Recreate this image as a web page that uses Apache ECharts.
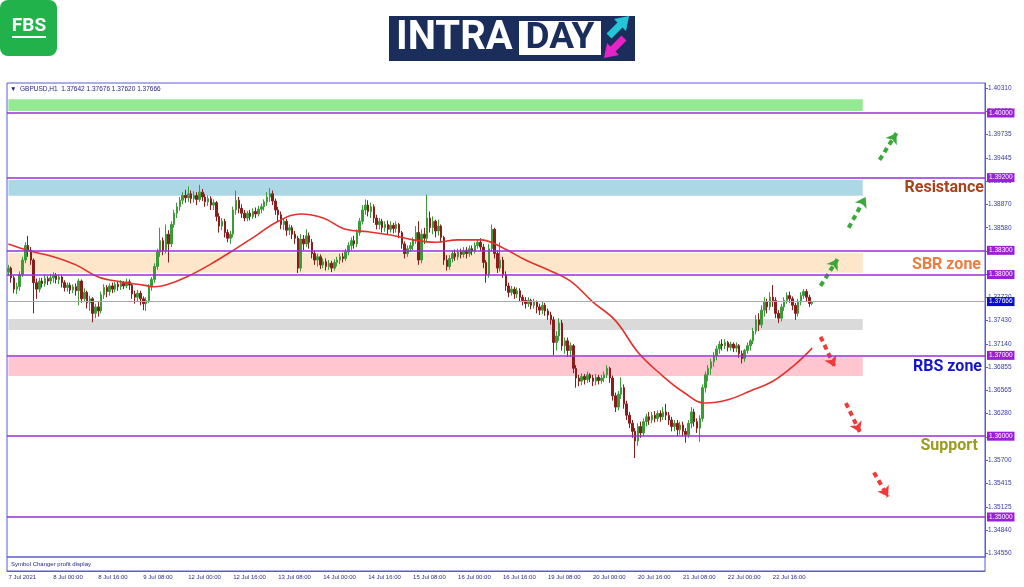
<!DOCTYPE html>
<html>
<head>
<meta charset="utf-8">
<title>GBPUSD H1 - Intraday</title>
<script src="https://cdn.jsdelivr.net/npm/echarts@6/dist/echarts.min.js"></script>
<style>
  html, body { margin: 0; padding: 0; background: #fff; }
  #chart { width: 1024px; height: 587px; }
</style>
</head>
<body>
<div id="chart"></div>
<script>
// hourly candles, 7 Jul 2021 08:00 -> 23 Jul 06:00, rows are [open, close, low, high]
const ohlc = [
  [1.3803,1.3808,1.3798,1.3812],[1.3808,1.3796,1.3790,1.3810],[1.3796,1.3782,1.3777,1.3799],[1.3782,1.3785,1.3776,1.3790],
  [1.3785,1.3800,1.3780,1.3804],[1.3800,1.3818,1.3797,1.3822],[1.3818,1.3836,1.3814,1.3840],[1.3836,1.3830,1.3822,1.3848],
  [1.3830,1.3818,1.3812,1.3834],[1.3818,1.3790,1.3752,1.3820],[1.3790,1.3782,1.3770,1.3795],[1.3782,1.3792,1.3778,1.3796],
  [1.3792,1.3789,1.3784,1.3796],[1.3789,1.3795,1.3785,1.3799],[1.3795,1.3792,1.3787,1.3798],[1.3792,1.3796,1.3788,1.3801],
  // 8 Jul
  [1.3796,1.3799,1.3790,1.3803],[1.3799,1.3794,1.3789,1.3802],[1.3794,1.3797,1.3788,1.3800],[1.3797,1.3790,1.3784,1.3799],
  [1.3790,1.3784,1.3779,1.3793],[1.3784,1.3787,1.3779,1.3790],[1.3787,1.3781,1.3776,1.3790],[1.3781,1.3785,1.3777,1.3788],
  [1.3785,1.3780,1.3774,1.3789],[1.3780,1.3792,1.3762,1.3795],[1.3792,1.3770,1.3765,1.3794],[1.3770,1.3778,1.3766,1.3783],
  [1.3778,1.3765,1.3758,1.3780],[1.3765,1.3770,1.3755,1.3774],[1.3770,1.3752,1.3741,1.3772],[1.3752,1.3760,1.3746,1.3764],
  [1.3760,1.3755,1.3748,1.3766],[1.3755,1.3775,1.3752,1.3779],[1.3775,1.3784,1.3770,1.3788],[1.3784,1.3779,1.3772,1.3787],
  [1.3779,1.3786,1.3774,1.3789],[1.3786,1.3782,1.3777,1.3790],[1.3782,1.3788,1.3778,1.3791],[1.3788,1.3785,1.3780,1.3792],
  [1.3785,1.3789,1.3781,1.3793],[1.3789,1.3786,1.3782,1.3792],[1.3786,1.3791,1.3783,1.3795],[1.3791,1.3787,1.3781,1.3794],
  [1.3787,1.3776,1.3770,1.3789],[1.3776,1.3772,1.3764,1.3780],[1.3772,1.3777,1.3766,1.3781],[1.3777,1.3770,1.3762,1.3780],
  // 9 Jul
  [1.3770,1.3764,1.3756,1.3773],[1.3764,1.3768,1.3755,1.3772],[1.3768,1.3785,1.3765,1.3788],[1.3785,1.3794,1.3780,1.3797],
  [1.3794,1.3810,1.3790,1.3814],[1.3810,1.3828,1.3806,1.3832],[1.3828,1.3842,1.3822,1.3858],[1.3842,1.3830,1.3824,1.3846],
  [1.3830,1.3850,1.3826,1.3862],[1.3850,1.3838,1.3815,1.3855],[1.3838,1.3862,1.3834,1.3866],[1.3862,1.3876,1.3858,1.3880],
  [1.3876,1.3884,1.3870,1.3889],[1.3884,1.3892,1.3879,1.3896],[1.3892,1.3898,1.3887,1.3902],[1.3898,1.3895,1.3889,1.3905],
  // 12 Jul
  [1.3895,1.3900,1.3890,1.3909],[1.3900,1.3894,1.3888,1.3904],[1.3894,1.3898,1.3889,1.3903],[1.3898,1.3893,1.3886,1.3902],
  [1.3893,1.3902,1.3890,1.3911],[1.3902,1.3896,1.3891,1.3906],[1.3896,1.3890,1.3884,1.3900],[1.3890,1.3894,1.3885,1.3898],
  [1.3894,1.3886,1.3880,1.3897],[1.3886,1.3889,1.3880,1.3893],[1.3889,1.3872,1.3866,1.3891],[1.3872,1.3860,1.3852,1.3876],
  [1.3860,1.3866,1.3855,1.3870],[1.3866,1.3852,1.3846,1.3869],[1.3852,1.3845,1.3840,1.3856],[1.3845,1.3850,1.3838,1.3854],
  [1.3850,1.3880,1.3846,1.3884],[1.3880,1.3892,1.3874,1.3904],[1.3892,1.3882,1.3876,1.3896],[1.3882,1.3876,1.3870,1.3887],
  [1.3876,1.3870,1.3866,1.3880],[1.3870,1.3876,1.3866,1.3879],[1.3876,1.3872,1.3867,1.3880],[1.3872,1.3878,1.3869,1.3882],
  // 13 Jul
  [1.3878,1.3875,1.3870,1.3883],[1.3875,1.3881,1.3872,1.3885],[1.3881,1.3884,1.3876,1.3888],[1.3884,1.3890,1.3879,1.3893],
  [1.3890,1.3896,1.3885,1.3902],[1.3896,1.3900,1.3890,1.3907],[1.3900,1.3891,1.3886,1.3904],[1.3891,1.3880,1.3874,1.3894],
  [1.3880,1.3874,1.3866,1.3884],[1.3874,1.3862,1.3856,1.3878],[1.3862,1.3866,1.3855,1.3870],[1.3866,1.3855,1.3848,1.3869],
  [1.3855,1.3858,1.3849,1.3862],[1.3858,1.3850,1.3844,1.3861],[1.3850,1.3845,1.3838,1.3854],[1.3845,1.3808,1.3802,1.3848],
  [1.3808,1.3844,1.3804,1.3850],[1.3844,1.3838,1.3830,1.3849],[1.3838,1.3848,1.3834,1.3856],[1.3848,1.3840,1.3832,1.3852],
  [1.3840,1.3826,1.3820,1.3844],[1.3826,1.3818,1.3812,1.3830],[1.3818,1.3822,1.3810,1.3826],[1.3822,1.3812,1.3807,1.3825],
  // 14 Jul
  [1.3812,1.3816,1.3808,1.3820],[1.3816,1.3810,1.3805,1.3820],[1.3810,1.3814,1.3806,1.3818],[1.3814,1.3808,1.3803,1.3817],
  [1.3808,1.3815,1.3805,1.3819],[1.3815,1.3818,1.3810,1.3822],[1.3818,1.3822,1.3813,1.3826],[1.3822,1.3820,1.3815,1.3827],
  [1.3820,1.3828,1.3817,1.3832],[1.3828,1.3836,1.3824,1.3840],[1.3836,1.3842,1.3830,1.3846],[1.3842,1.3838,1.3832,1.3848],
  [1.3838,1.3852,1.3834,1.3856],[1.3852,1.3866,1.3848,1.3870],[1.3866,1.3880,1.3862,1.3886],[1.3880,1.3886,1.3874,1.3893],
  [1.3886,1.3878,1.3872,1.3892],[1.3878,1.3884,1.3870,1.3889],[1.3884,1.3870,1.3864,1.3887],[1.3870,1.3862,1.3856,1.3874],
  [1.3862,1.3866,1.3856,1.3870],[1.3866,1.3858,1.3852,1.3869],[1.3858,1.3862,1.3853,1.3866],[1.3862,1.3856,1.3850,1.3867],
  // 15 Jul
  [1.3856,1.3861,1.3852,1.3866],[1.3861,1.3857,1.3851,1.3864],[1.3857,1.3862,1.3852,1.3866],[1.3862,1.3852,1.3845,1.3864],
  [1.3852,1.3838,1.3832,1.3854],[1.3838,1.3826,1.3820,1.3841],[1.3826,1.3832,1.3822,1.3836],[1.3832,1.3836,1.3828,1.3840],
  [1.3836,1.3842,1.3830,1.3846],[1.3842,1.3852,1.3838,1.3860],[1.3852,1.3818,1.3812,1.3866],[1.3818,1.3850,1.3814,1.3856],
  [1.3850,1.3845,1.3838,1.3858],[1.3845,1.3870,1.3840,1.3899],[1.3870,1.3858,1.3852,1.3878],[1.3858,1.3866,1.3850,1.3872],
  [1.3866,1.3854,1.3846,1.3868],[1.3854,1.3860,1.3848,1.3868],[1.3860,1.3846,1.3840,1.3862],[1.3846,1.3818,1.3812,1.3848],
  [1.3818,1.3810,1.3805,1.3824],[1.3810,1.3820,1.3806,1.3824],[1.3820,1.3826,1.3815,1.3830],[1.3826,1.3822,1.3817,1.3831],
  // 16 Jul
  [1.3822,1.3828,1.3818,1.3832],[1.3828,1.3825,1.3820,1.3832],[1.3825,1.3830,1.3821,1.3834],[1.3830,1.3826,1.3820,1.3834],
  [1.3826,1.3832,1.3822,1.3836],[1.3832,1.3829,1.3824,1.3836],[1.3829,1.3836,1.3826,1.3840],[1.3836,1.3840,1.3832,1.3844],
  [1.3840,1.3834,1.3829,1.3845],[1.3834,1.3815,1.3808,1.3838],[1.3815,1.3800,1.3790,1.3818],[1.3800,1.3832,1.3796,1.3838],
  [1.3832,1.3856,1.3828,1.3862],[1.3856,1.3826,1.3820,1.3858],[1.3826,1.3808,1.3802,1.3830],[1.3808,1.3818,1.3804,1.3840],
  [1.3818,1.3800,1.3796,1.3822],[1.3800,1.3786,1.3780,1.3804],[1.3786,1.3778,1.3772,1.3790],[1.3778,1.3782,1.3774,1.3786],
  [1.3782,1.3776,1.3770,1.3785],[1.3776,1.3780,1.3771,1.3784],[1.3780,1.3772,1.3766,1.3783],[1.3772,1.3768,1.3762,1.3775],
  // 19 Jul
  [1.3768,1.3764,1.3758,1.3772],[1.3764,1.3768,1.3760,1.3772],[1.3768,1.3762,1.3757,1.3770],[1.3762,1.3766,1.3758,1.3770],
  [1.3766,1.3760,1.3752,1.3768],[1.3760,1.3756,1.3750,1.3764],[1.3756,1.3762,1.3751,1.3766],[1.3762,1.3755,1.3749,1.3765],
  [1.3755,1.3750,1.3744,1.3758],[1.3750,1.3744,1.3738,1.3754],[1.3744,1.3716,1.3700,1.3748],[1.3716,1.3724,1.3706,1.3730],
  [1.3724,1.3740,1.3718,1.3746],[1.3740,1.3712,1.3706,1.3744],[1.3712,1.3718,1.3702,1.3722],[1.3718,1.3706,1.3698,1.3722],
  [1.3706,1.3712,1.3698,1.3716],[1.3712,1.3684,1.3678,1.3714],[1.3684,1.3672,1.3660,1.3688],[1.3672,1.3668,1.3662,1.3676],
  [1.3668,1.3674,1.3663,1.3678],[1.3674,1.3670,1.3664,1.3677],[1.3670,1.3676,1.3666,1.3680],[1.3676,1.3672,1.3667,1.3678],
  // 20 Jul
  [1.3672,1.3668,1.3662,1.3676],[1.3668,1.3673,1.3663,1.3677],[1.3673,1.3669,1.3664,1.3676],[1.3669,1.3672,1.3665,1.3676],
  [1.3672,1.3676,1.3667,1.3680],[1.3676,1.3684,1.3672,1.3688],[1.3684,1.3672,1.3666,1.3686],[1.3672,1.3650,1.3644,1.3675],
  [1.3650,1.3636,1.3630,1.3654],[1.3636,1.3652,1.3632,1.3656],[1.3652,1.3660,1.3646,1.3673],[1.3660,1.3640,1.3634,1.3664],
  [1.3640,1.3626,1.3620,1.3644],[1.3626,1.3616,1.3610,1.3630],[1.3616,1.3606,1.3598,1.3620],[1.3606,1.3594,1.3573,1.3610],
  [1.3594,1.3612,1.3588,1.3616],[1.3612,1.3604,1.3598,1.3618],[1.3604,1.3618,1.3600,1.3622],[1.3618,1.3624,1.3612,1.3628],
  [1.3624,1.3620,1.3614,1.3630],[1.3620,1.3626,1.3616,1.3630],[1.3626,1.3622,1.3617,1.3631],[1.3622,1.3628,1.3618,1.3632],
  // 21 Jul
  [1.3628,1.3624,1.3618,1.3632],[1.3624,1.3630,1.3620,1.3636],[1.3630,1.3626,1.3620,1.3640],[1.3626,1.3620,1.3614,1.3630],
  [1.3620,1.3612,1.3606,1.3624],[1.3612,1.3616,1.3606,1.3620],[1.3616,1.3608,1.3600,1.3620],[1.3608,1.3614,1.3602,1.3618],
  [1.3614,1.3606,1.3600,1.3618],[1.3606,1.3602,1.3592,1.3610],[1.3602,1.3616,1.3598,1.3620],[1.3616,1.3630,1.3610,1.3636],
  [1.3630,1.3618,1.3612,1.3634],[1.3618,1.3610,1.3604,1.3622],[1.3610,1.3622,1.3593,1.3626],[1.3622,1.3660,1.3618,1.3664],
  [1.3660,1.3676,1.3654,1.3680],[1.3676,1.3684,1.3668,1.3688],[1.3684,1.3692,1.3676,1.3696],[1.3692,1.3700,1.3686,1.3704],
  [1.3700,1.3708,1.3694,1.3712],[1.3708,1.3714,1.3702,1.3718],[1.3714,1.3712,1.3706,1.3720],[1.3712,1.3716,1.3708,1.3720],
  // 22 Jul
  [1.3716,1.3710,1.3705,1.3718],[1.3710,1.3714,1.3706,1.3717],[1.3714,1.3709,1.3704,1.3716],[1.3709,1.3712,1.3704,1.3716],
  [1.3712,1.3702,1.3697,1.3714],[1.3702,1.3696,1.3690,1.3706],[1.3696,1.3706,1.3692,1.3708],[1.3706,1.3712,1.3702,1.3716],
  [1.3712,1.3718,1.3706,1.3720],[1.3718,1.3730,1.3714,1.3734],[1.3730,1.3744,1.3726,1.3750],[1.3744,1.3738,1.3730,1.3752],
  [1.3738,1.3756,1.3734,1.3762],[1.3756,1.3766,1.3748,1.3772],[1.3766,1.3760,1.3752,1.3770],[1.3760,1.3772,1.3756,1.3778],
  [1.3772,1.3768,1.3760,1.3787],[1.3768,1.3752,1.3746,1.3772],[1.3752,1.3746,1.3740,1.3756],[1.3746,1.3760,1.3742,1.3764],
  [1.3760,1.3768,1.3755,1.3772],[1.3768,1.3774,1.3764,1.3778],[1.3774,1.3770,1.3765,1.3779],[1.3770,1.3762,1.3756,1.3773],
  // 23 Jul
  [1.3762,1.3752,1.3744,1.3765],[1.3752,1.3766,1.3748,1.3770],[1.3766,1.3774,1.3762,1.3778],[1.3774,1.3779,1.3770,1.3782],
  [1.3779,1.3772,1.3767,1.3782],[1.3772,1.37642,1.3760,1.3775],[1.37642,1.37666,1.37620,1.37676]
];

// red moving average, every few bars
const maIdx  = [0, 8, 16, 24, 32, 40, 48, 52, 56, 64, 72, 80, 88, 96, 104, 112, 120, 128, 136,
                144, 152, 160, 168, 176, 184, 192, 200, 208, 216, 224, 232, 240, 248, 256, 264, 272, 280, 286];
const maVals = [1.3838, 1.3829, 1.3822, 1.3812, 1.3797, 1.3791, 1.3787, 1.3785, 1.3787, 1.3798, 1.3813, 1.3830, 1.3848,
                1.3866, 1.3875, 1.3870, 1.3856, 1.3853, 1.3849, 1.3843, 1.3840, 1.3843, 1.3843, 1.3833, 1.3818,
                1.3806, 1.3792, 1.3766, 1.3743, 1.3704, 1.3677, 1.3655, 1.3641, 1.3645, 1.3656, 1.3668, 1.3689, 1.3709];

const levels = [1.40000, 1.39200, 1.38300, 1.38000, 1.37000, 1.36000, 1.35000];
const lastPrice = 1.37666;
// shaded bands [top, bottom, colour]
const zones = [
  [1.40170, 1.40025, '#93ea93'],
  [1.39170, 1.38975, '#acd8e6'],
  [1.38268, 1.38022, '#fde6c9'],
  [1.37450, 1.37315, '#dadada'],
  [1.36980, 1.36745, '#ffc6cf']
];
const zoneEnd = 304;
const yTicks = [1.40310, 1.40020, 1.39735, 1.39445, 1.39155, 1.38870, 1.38580, 1.38290, 1.38005, 1.37720,
                1.37430, 1.37140, 1.36855, 1.36565, 1.36280, 1.35990, 1.35700, 1.35415, 1.35125, 1.34840, 1.34550];
// dashed scenario arrows [fromIdx, fromPrice, toIdx, toPrice, colour]
const arrows = [
  [289, 1.3786, 295, 1.3819, '#3aa83a'],
  [299, 1.3858, 305, 1.3896, '#3aa83a'],
  [310, 1.3942, 316, 1.3975, '#3aa83a'],
  [289, 1.3723, 294, 1.3686, '#f03a3a'],
  [298, 1.3641, 303, 1.3605, '#f03a3a'],
  [308, 1.3555, 313, 1.3525, '#f03a3a']
];
const SLOTS = 348; // bars incl. empty space right of the last candle

const MONTHS = ['Jan','Feb','Mar','Apr','May','Jun','Jul','Aug','Sep','Oct','Nov','Dec'];
function hourLabels(n) {
  const out = [];
  let t = Date.UTC(2021, 6, 7, 8);
  while (out.length < n) {
    const d = new Date(t);
    const wd = d.getUTCDay();
    if (wd !== 0 && wd !== 6) {
      const hh = String(d.getUTCHours()).padStart(2, '0');
      out.push(d.getUTCDate() + ' ' + MONTHS[d.getUTCMonth()] + ' ' + hh + ':00');
    }
    t += 3600000;
  }
  return out;
}
const categories = hourLabels(SLOTS);

const maData = new Array(ohlc.length).fill(null);
maIdx.forEach((i, k) => { maData[i] = maVals[k]; });

const FRAME = '#5a5ad2';
const PURPLE = '#9a2fd6';
const small = { fontFamily: 'Liberation Sans, sans-serif', fontSize: 6.5 };
const showTick = (i) => i % 16 === 0 && i < ohlc.length;

const myChart = echarts.init(document.getElementById('chart'));
myChart.setOption({
  animation: false,
  grid: [
    { left: 7, right: 39, top: 83, height: 474, show: true, borderColor: FRAME, borderWidth: 1 },
    { left: 7, right: 39, top: 557, height: 14, show: true, borderColor: FRAME, borderWidth: 1 }
  ],
  xAxis: [
    { type: 'category', gridIndex: 0, data: categories, show: false },
    {
      type: 'category', gridIndex: 1, data: categories,
      axisLine: { lineStyle: { color: FRAME } },
      axisTick: { alignWithLabel: true, length: 3, interval: showTick, lineStyle: { color: FRAME } },
      axisLabel: {
        interval: showTick, align: 'left', margin: 3, color: '#2c2c8a', ...small, fontSize: 6,
        formatter: (v, i) => (i === 0 ? '7 Jul 2021' : v)
      }
    }
  ],
  yAxis: [
    {
      type: 'value', gridIndex: 0, position: 'right', min: 1.34505, max: 1.40371,
      splitLine: { show: false },
      axisLine: { show: true, lineStyle: { color: FRAME } },
      axisTick: { show: true, length: 3, customValues: yTicks, lineStyle: { color: FRAME } },
      axisLabel: { customValues: yTicks, margin: 3, color: '#3a3aa0', ...small, formatter: (v) => v.toFixed(5) }
    },
    { type: 'value', gridIndex: 1, min: 0, max: 1, show: false }
  ],
  series: [
    {
      name: 'GBPUSD,H1',
      type: 'candlestick',
      xAxisIndex: 0, yAxisIndex: 0,
      data: ohlc,
      barWidth: 2,
      clip: false,
      itemStyle: { color: '#3b9b3b', color0: '#8a1c1c', borderColor: '#3b9b3b', borderColor0: '#8a1c1c', borderWidth: 1 },
      markArea: {
        silent: true,
        data: zones.map((z) => [
          { xAxis: 0, yAxis: z[0], itemStyle: { color: z[2] } },
          { xAxis: zoneEnd, yAxis: z[1] }
        ])
      },
      markLine: {
        silent: true,
        symbol: 'none',
        precision: 5,
        data: levels.map((v) => ({ yAxis: v })).concat([{
          yAxis: lastPrice,
          lineStyle: { color: '#a8a8a8', width: 1, type: 'solid' },
          label: { backgroundColor: '#0a0ad0' }
        }]),
        lineStyle: { color: PURPLE, width: 1.5, type: 'solid' },
        label: {
          position: 'end', distance: 2, color: '#fff', backgroundColor: '#9b1fd8',
          padding: [1, 2], ...small, formatter: (p) => Number(p.value).toFixed(5)
        }
      }
    },
    {
      name: 'MA',
      type: 'line',
      xAxisIndex: 0, yAxisIndex: 0,
      data: maData,
      connectNulls: true,
      smooth: 0.4,
      showSymbol: false,
      symbol: 'none',
      lineStyle: { color: '#e3312c', width: 1.6 }
    },
    {
      name: 'scenarios',
      type: 'lines',
      coordinateSystem: 'cartesian2d',
      xAxisIndex: 0, yAxisIndex: 0,
      symbol: ['none', 'arrow'],
      symbolSize: 10,
      data: arrows.map((a) => ({
        coords: [[a[0], a[1]], [a[2], a[3]]],
        lineStyle: { color: a[4], width: 4, type: [5, 4], opacity: 1 }
      }))
    }
  ],
  graphic: [
    // FBS badge
    { type: 'rect', shape: { x: 0, y: 0, width: 57, height: 56, r: 8 }, style: { fill: '#22b24c' } },
    { type: 'text', style: { text: 'FBS', x: 29, y: 26, textAlign: 'center', textVerticalAlign: 'middle',
      fill: '#fff', font: 'bold 19px Roboto, sans-serif' } },
    { type: 'rect', shape: { x: 12, y: 36, width: 34, height: 2 }, style: { fill: '#fff' } },
    // INTRADAY banner
    { type: 'rect', shape: { x: 389, y: 16, width: 246, height: 45 }, style: { fill: '#1b2d5a' } },
    { type: 'text', style: { text: 'INTRA', x: 396, y: 39, textVerticalAlign: 'middle',
      fill: '#fff', font: 'bold 40px Roboto, sans-serif' } },
    { type: 'rect', shape: { x: 519, y: 21, width: 82, height: 34 }, style: { fill: '#fff' } },
    { type: 'text', style: { text: 'DAY', x: 560, y: 39, textAlign: 'center', textVerticalAlign: 'middle',
      fill: '#1b2d5a', font: 'bold 37px Roboto, sans-serif' } },
    { type: 'polygon', shape: { points: [[606.5,33.5],[617.5,22.5],[614,19],[629,16],[626,31],[622.5,27.5],[611.5,38.5]] },
      style: { fill: '#22c6d6' } },
    { type: 'polygon', shape: { points: [[626.5,40.5],[615.5,51.5],[619,55],[604,58],[607,43],[610.5,46.5],[621.5,35.5]] },
      style: { fill: '#e523c8' } },
    // chart header and sub-window caption
    { type: 'text', style: { text: '\u25BC  GBPUSD,H1  1.37642 1.37676 1.37620 1.37666', x: 10, y: 89,
      textVerticalAlign: 'middle', fill: '#1e1e80', font: '6.5px Liberation Sans, sans-serif' } },
    { type: 'text', style: { text: 'Symbol Changer profit display', x: 11, y: 564,
      textVerticalAlign: 'middle', fill: '#1e1e80', font: '6px Liberation Sans, sans-serif' } },
    // zone names
    { type: 'text', style: { text: 'Resistance', x: 984, y: 188, textAlign: 'right', textVerticalAlign: 'middle',
      fill: '#a7431c', font: 'bold 16px Roboto, sans-serif' } },
    { type: 'text', style: { text: 'SBR zone', x: 981, y: 265, textAlign: 'right', textVerticalAlign: 'middle',
      fill: '#f07b3c', font: 'bold 16px Roboto, sans-serif' } },
    { type: 'text', style: { text: 'RBS zone', x: 982, y: 367, textAlign: 'right', textVerticalAlign: 'middle',
      fill: '#1414cf', font: 'bold 16px Roboto, sans-serif' } },
    { type: 'text', style: { text: 'Support', x: 978, y: 446, textAlign: 'right', textVerticalAlign: 'middle',
      fill: '#9b9b22', font: 'bold 16px Roboto, sans-serif' } }
  ]
});
</script>
</body>
</html>
